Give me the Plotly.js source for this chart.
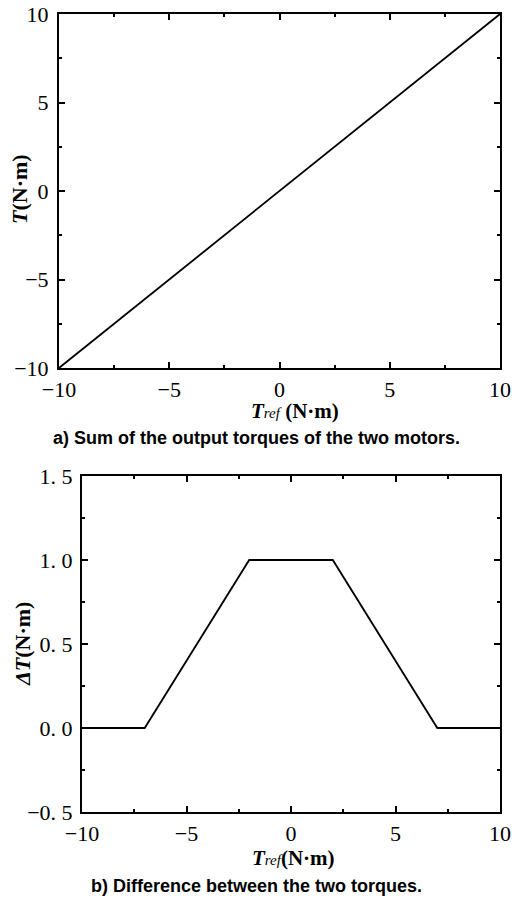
<!DOCTYPE html>
<html>
<head>
<meta charset="utf-8">
<script src="https://cdn.plot.ly/plotly-3.0.1.min.js"></script>
<style>
  html, body { margin: 0; padding: 0; background: #fff; }
  #chart { width: 512px; height: 903px; }
</style>
</head>
<body>
<div id="chart"></div>
<script>
// (a) total output torque versus reference torque
const trefSum = [-10, 10];
const torqueSum = [-10, 10];

// (b) torque difference between the two motors versus reference torque
const trefDiff = [-10, -7, -2, 2, 7, 10];
const torqueDiff = [0, 0, 1, 1, 0, 0];

// tick labels
const xTickVals = [-10, -5, 0, 5, 10];
const xTickText = ['\u221210', '\u22125', '0', '5', '10'];
const xMinorVals = [-7.5, -2.5, 2.5, 7.5];
const y1TickVals = [-10, -5, 0, 5, 10];
const y1TickText = ['\u221210', '\u22125', '0', '5', '10'];
const y1MinorVals = [-7.5, -2.5, 2.5, 7.5];
const y2TickVals = [-0.5, 0, 0.5, 1.0, 1.5];
const y2TickText = ['\u22120. 5', '0. 0', '0. 5', '1. 0', '1. 5'];
const y2MinorVals = [-0.25, 0.25, 0.75, 1.25];

const W = 512, H = 903;
const px = v => v / W;
const py = v => 1 - v / H;

const serif = 'Liberation Serif, Times New Roman, serif';
const tickFont = { family: serif, size: 22, color: '#000' };

function axis(domain, range, vals, text, minorVals, extra) {
  return Object.assign({
    domain: domain,
    range: range,
    tickmode: 'array',
    tickvals: vals,
    ticktext: text,
    ticks: 'inside',
    ticklen: 6,
    tickwidth: 2,
    tickcolor: '#000',
    showline: true,
    linewidth: 2,
    linecolor: '#000',
    mirror: 'ticks',
    showgrid: false,
    zeroline: false,
    fixedrange: true,
    tickfont: tickFont,
    minor: {
      tickmode: 'array',
      tickvals: minorVals,
      ticks: 'inside',
      ticklen: 3,
      tickwidth: 2,
      tickcolor: '#000',
      showgrid: false
    }
  }, extra || {});
}

const lineStyle = { color: '#000', width: 1.8 };

const data = [
  { x: trefSum, y: torqueSum, mode: 'lines', line: lineStyle, xaxis: 'x', yaxis: 'y', hoverinfo: 'skip' },
  { x: trefDiff, y: torqueDiff, mode: 'lines', line: lineStyle, xaxis: 'x2', yaxis: 'y2', hoverinfo: 'skip' }
];

const titleFont = { family: serif, size: 21, color: '#000' };
const yTitleFont = { family: serif, size: 22, color: '#000' };
const capFont = { family: 'Liberation Sans, Arial, sans-serif', size: 18, color: '#000' };

const refLabel = '<b><i>T</i></b><i><span style="font-size:15px">ref</span></i>';

const layout = {
  width: W,
  height: H,
  margin: { l: 0, r: 0, t: 0, b: 0 },
  paper_bgcolor: '#fff',
  plot_bgcolor: '#fff',
  showlegend: false,
  xaxis: axis([px(59), px(500)], [-10, 10], xTickVals, xTickText, xMinorVals, { anchor: 'y', ticklabelstandoff: 1 }),
  yaxis: axis([py(368), py(14)], [-10, 10], y1TickVals, y1TickText, y1MinorVals, { anchor: 'x', ticklabelstandoff: 4 }),
  xaxis2: axis([px(82), px(500)], [-10, 10], xTickVals, xTickText, xMinorVals, { anchor: 'y2', ticklabelstandoff: 1 }),
  yaxis2: axis([py(812), py(476)], [-0.5, 1.5], y2TickVals, y2TickText, y2MinorVals, { anchor: 'x2', ticklabelstandoff: 3 }),
  annotations: [
    { xref: 'paper', yref: 'paper', x: px(295), y: py(411), text: refLabel + ' <b>(N·m)</b>',
      showarrow: false, font: titleFont, xanchor: 'center', yanchor: 'middle' },
    { xref: 'paper', yref: 'paper', x: px(19), y: py(189), text: '<b><i>T</i></b><b>(N·m)</b>',
      showarrow: false, font: yTitleFont, textangle: -90, xanchor: 'center', yanchor: 'middle' },
    { xref: 'paper', yref: 'paper', x: px(256), y: py(438), text: '<b>a) Sum of the output torques of the two motors.</b>',
      showarrow: false, font: capFont, xanchor: 'center', yanchor: 'middle' },
    { xref: 'paper', yref: 'paper', x: px(293), y: py(858), text: refLabel + '<b>(N·m)</b>',
      showarrow: false, font: titleFont, xanchor: 'center', yanchor: 'middle' },
    { xref: 'paper', yref: 'paper', x: px(22), y: py(644), text: '<b><i>ΔT</i></b><b>(N·m)</b>',
      showarrow: false, font: yTitleFont, textangle: -90, xanchor: 'center', yanchor: 'middle' },
    { xref: 'paper', yref: 'paper', x: px(256), y: py(886), text: '<b>b) Difference between the two torques.</b>',
      showarrow: false, font: capFont, xanchor: 'center', yanchor: 'middle' }
  ]
};

Plotly.newPlot('chart', data, layout, { displayModeBar: false, staticPlot: true });
</script>
</body>
</html>
